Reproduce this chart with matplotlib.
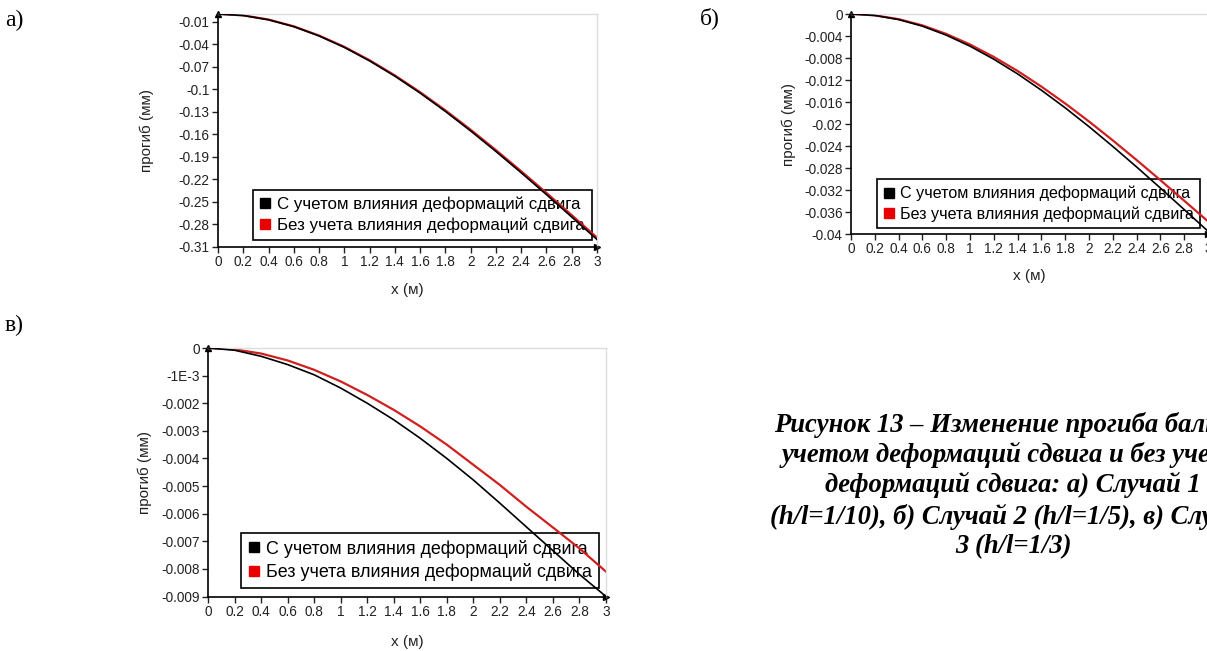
import matplotlib.pyplot as plt
from matplotlib.lines import Line2D

plt.rcParams['font.family'] = ['Liberation Sans', 'DejaVu Sans']

# beam coordinate, m
x = [0, 0.2, 0.4, 0.6, 0.8, 1.0, 1.2, 1.4, 1.6, 1.8, 2.0, 2.2, 2.4, 2.6, 2.8, 3.0]
x_ticks = x
x_labels = ["0", "0.2", "0.4", "0.6", "0.8", "1", "1.2", "1.4", "1.6", "1.8",
            "2", "2.2", "2.4", "2.6", "2.8", "3"]

# case 1 (h/l=1/10)
a_shear = [0, -0.0020, -0.0077, -0.0168, -0.0292, -0.0444, -0.0624, -0.0827,
           -0.1052, -0.1296, -0.1556, -0.1829, -0.2112, -0.2403, -0.2701, -0.3000]
a_plain = [0, -0.0018, -0.0074, -0.0164, -0.0287, -0.0437, -0.0615, -0.0817,
           -0.1040, -0.1282, -0.1540, -0.1811, -0.2092, -0.2381, -0.2676, -0.2975]
a_yticks = [-0.01, -0.04, -0.07, -0.1, -0.13, -0.16, -0.19, -0.22, -0.25, -0.28, -0.31]
a_ylabels = ["-0.01", "-0.04", "-0.07", "-0.1", "-0.13", "-0.16", "-0.19",
             "-0.22", "-0.25", "-0.28", "-0.31"]

# case 2 (h/l=1/5)
b_shear = [0, -0.00026, -0.00101, -0.00221, -0.00384, -0.00585, -0.00822, -0.01089,
           -0.01386, -0.01706, -0.02048, -0.02408, -0.02781, -0.03164, -0.03556, -0.0395]
b_plain = [0, -0.00024, -0.00094, -0.00207, -0.00362, -0.00554, -0.00781, -0.01036,
           -0.0132, -0.01627, -0.01954, -0.02298, -0.02655, -0.03021, -0.03395, -0.0377]
b_yticks = [0, -0.004, -0.008, -0.012, -0.016, -0.02, -0.024, -0.028, -0.032, -0.036, -0.04]
b_ylabels = ["0", "-0.004", "-0.008", "-0.012", "-0.016", "-0.02", "-0.024",
             "-0.028", "-0.032", "-0.036", "-0.04"]

# case 3 (h/l=1/3)
c_shear = [0, -0.00008, -0.0003, -0.0006, -0.00097, -0.00145, -0.0020, -0.0026,
           -0.00327, -0.0040, -0.00478, -0.00562, -0.00648, -0.00734, -0.0082, -0.0090]
c_plain = [0, -0.00005, -0.0002, -0.00045, -0.00079, -0.00121, -0.0017, -0.00224,
           -0.00284, -0.0035, -0.00423, -0.00496, -0.00575, -0.0065, -0.00726, -0.0081]
c_yticks = [0, -0.001, -0.002, -0.003, -0.004, -0.005, -0.006, -0.007, -0.008, -0.009]
c_ylabels = ["0", "-1E-3", "-0.002", "-0.003", "-0.004", "-0.005", "-0.006",
             "-0.007", "-0.008", "-0.009"]

legend_names = ["С учетом влияния деформаций сдвига", "Без учета влияния деформаций сдвига"]

W, H = 1207, 651
fig = plt.figure(figsize=(W / 100, H / 100), dpi=100)


def px_axes(left, right, top, bottom):
    return fig.add_axes([left / W, (H - bottom) / H, (right - left) / W, (bottom - top) / H])


def draw_panel(ax, shear, plain, yticks, ylabels, ylim, fs, leg_fs, leg_anchor):
    ax.plot(x, plain, color="#d02020", lw=1.6, zorder=2)
    ax.plot(x, shear, color="black", lw=1.2, zorder=3)
    ax.set_xlim(0, 3)
    ax.set_ylim(*ylim)
    ax.set_xticks(x_ticks)
    ax.set_xticklabels(x_labels)
    ax.set_yticks(yticks)
    ax.set_yticklabels(ylabels)
    ax.tick_params(direction="out", length=4, width=1, labelsize=fs, colors="#222222", pad=2)
    for s in ["top", "right"]:
        ax.spines[s].set_color("#dddddd")
        ax.spines[s].set_linewidth(1)
    for s in ["left", "bottom"]:
        ax.spines[s].set_color("black")
        ax.spines[s].set_linewidth(1.2)
    # small arrowheads on the axes
    ax.plot([0], [1], marker="^", ms=4, color="black", transform=ax.transAxes, clip_on=False)
    ax.plot([1], [0], marker=">", ms=4, color="black", transform=ax.transAxes, clip_on=False)
    ax.set_ylabel("прогиб (мм)", fontsize=11, color="#222222")
    ax.set_xlabel("x (м)", fontsize=11, color="#222222")
    handles = [Line2D([], [], marker="s", ls="none", color="black", ms=7.5),
               Line2D([], [], marker="s", ls="none", color="#e80000", ms=7.5)]
    leg = ax.legend(handles, legend_names, loc="lower right", bbox_to_anchor=leg_anchor,
                    fontsize=leg_fs, frameon=True, fancybox=False, framealpha=1,
                    handlelength=0.6, handletextpad=0.4, borderpad=0.4,
                    labelspacing=0.3, borderaxespad=0)
    leg.get_frame().set_edgecolor("black")
    leg.get_frame().set_linewidth(1.2)
    leg.set_zorder(1)
    return ax


ax_a = px_axes(218, 597, 14, 247)
draw_panel(ax_a, a_shear, a_plain, a_yticks, a_ylabels, (-0.31, 0), 9.8, 12.2, (0.986, 0.032))
ax_a.yaxis.set_label_coords(-0.170, 0.5)
ax_a.xaxis.set_label_coords(0.5, -0.155)

ax_b = px_axes(851, 1208, 14, 234)
draw_panel(ax_b, b_shear, b_plain, b_yticks, b_ylabels, (-0.04, 0), 9.8, 11.6, (0.978, 0.027))
ax_b.yaxis.set_label_coords(-0.153, 0.5)
ax_b.xaxis.set_label_coords(0.5, -0.16)

ax_c = px_axes(208, 606, 348, 596.5)
draw_panel(ax_c, c_shear, c_plain, c_yticks, c_ylabels, (-0.009, 0), 9.8, 12.9, (0.983, 0.033))
ax_c.yaxis.set_label_coords(-0.14, 0.5)
ax_c.xaxis.set_label_coords(0.5, -0.155)

serif = ["Liberation Serif", "DejaVu Serif"]
fig.text(5 / W, 1 - 20 / H, "а)", fontsize=17, family=serif, va="center")
fig.text(700 / W, 1 - 18 / H, "б)", fontsize=17, family=serif, va="center")
fig.text(5 / W, 1 - 325 / H, "в)", fontsize=17, family=serif, va="center")

# caption of the page; it runs past the right edge as in the scanned source
caption = ["Рисунок 13 – Изменение прогиба балки с",
           "учетом деформаций сдвига и без учета",
           "деформаций сдвига: а) Случай 1",
           "(h/l=1/10), б) Случай 2 (h/l=1/5), в) Случай",
           "3 (h/l=1/3)"]
cap_y = [425, 455, 485, 517, 547]
for line, yy in zip(caption, cap_y):
    fig.text(1013 / W, 1 - yy / H, line, fontsize=19.2, family=serif, weight="bold",
             style="italic", ha="center", va="center")

fig.savefig("out.png", dpi=100)
